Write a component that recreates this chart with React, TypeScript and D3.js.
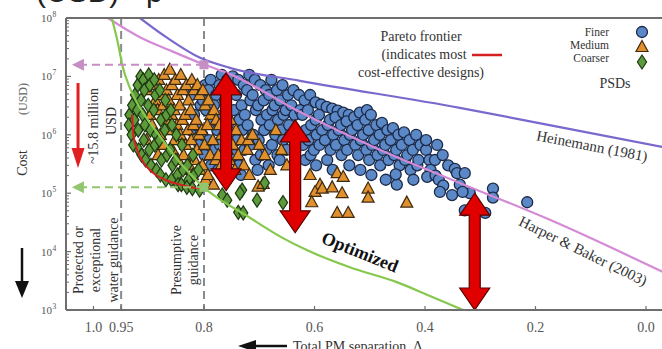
import React from "react";
import * as d3 from "d3";

const W = 662;
const H = 349;
const serif = '"Liberation Serif", "DejaVu Serif", serif';

// PSD design points: [total PM separation Δ, cost USD]
const finer: [number, number][] = [
  [0.822, 4.8e6], [0.818, 2.2e6], [0.824, 1.2e6],
  [0.812, 5.8e6], [0.806, 3.2e6], [0.814, 1.47e6], [0.808, 6.7e5],
  [0.798, 7.1e6], [0.802, 3.9e6], [0.796, 2.65e6], [0.803, 1.0e6], [0.799, 4.5e5],
  [0.788, 8.7e6], [0.792, 5.8e6], [0.786, 1.8e6], [0.791, 8.1e5], [0.787, 3.0e5],
  [0.778, 4.8e6], [0.782, 3.2e6], [0.776, 1.2e6], [0.781, 5.5e5],
  [0.768, 1.06e7], [0.772, 7.1e6], [0.766, 2.2e6], [0.771, 6.7e5], [0.774, 2.5e5],
  [0.758, 8.7e6], [0.762, 3.9e6], [0.757, 1.47e6],
  [0.748, 1.0e7], [0.752, 5.8e6], [0.746, 2.65e6], [0.751, 1.0e6], [0.745, 4.5e5],
  [0.738, 8.7e6], [0.742, 4.8e6], [0.736, 1.8e6], [0.741, 8.1e5], [0.737, 3.0e5],
  [0.728, 7.1e6], [0.732, 3.2e6], [0.726, 2.2e6], [0.731, 1.2e6], [0.727, 5.5e5], [0.733, 2.05e5],
  [0.718, 1.06e7], [0.722, 5.8e6], [0.716, 3.9e6], [0.721, 1.47e6], [0.717, 6.7e5],
  [0.708, 8.7e6], [0.712, 4.8e6], [0.706, 2.65e6], [0.711, 1.0e6], [0.707, 3.7e5],
  [0.698, 7.1e6], [0.702, 3.2e6], [0.696, 1.8e6], [0.701, 8.1e5], [0.697, 4.5e5], [0.703, 2.5e5],
  [0.688, 5.8e6], [0.692, 3.9e6], [0.686, 2.2e6], [0.691, 1.2e6], [0.687, 5.5e5],
  [0.678, 8.7e6], [0.682, 4.8e6], [0.676, 2.65e6], [0.681, 1.47e6], [0.677, 6.7e5], [0.683, 3.0e5],
  [0.668, 5.8e6], [0.672, 3.2e6], [0.666, 1.8e6], [0.671, 1.0e6], [0.667, 4.5e5],
  [0.658, 7.1e6], [0.662, 3.9e6], [0.656, 2.2e6], [0.661, 1.2e6], [0.657, 8.1e5], [0.663, 3.7e5],
  [0.648, 4.8e6], [0.652, 2.65e6], [0.646, 1.47e6], [0.651, 5.5e5],
  [0.638, 5.8e6], [0.642, 3.2e6], [0.636, 2.2e6],
  [0.628, 4.8e6], [0.626, 2.65e6],
  [0.618, 3.9e6], [0.622, 2.2e6], [0.616, 1.2e6], [0.621, 6.7e5], [0.617, 3.7e5],
  [0.608, 4.8e6], [0.612, 2.65e6], [0.606, 1.47e6], [0.611, 8.1e5], [0.607, 4.5e5],
  [0.598, 3.6e6], [0.598, 1.8e6], [0.596, 1.0e6], [0.601, 5.5e5], [0.597, 3.0e5],
  [0.588, 3.3e6], [0.592, 2.2e6], [0.586, 1.2e6], [0.591, 6.7e5],
  [0.578, 3.0e6], [0.576, 1.47e6], [0.581, 8.1e5], [0.577, 3.7e5],
  [0.568, 2.8e6], [0.572, 1.8e6], [0.566, 1.0e6], [0.571, 5.5e5], [0.567, 2.5e5],
  [0.558, 2.6e6], [0.562, 2.0e6], [0.556, 1.2e6], [0.561, 6.7e5],
  [0.548, 2.4e6], [0.552, 1.47e6], [0.546, 8.1e5], [0.551, 4.5e5],
  [0.538, 2.2e6], [0.542, 1.7e6], [0.536, 1.0e6], [0.541, 5.5e5], [0.537, 3.0e5],
  [0.528, 2.0e6], [0.532, 1.2e6], [0.526, 6.7e5],
  [0.518, 2.4e6], [0.522, 1.47e6], [0.516, 8.1e5], [0.521, 4.5e5], [0.517, 2.5e5],
  [0.505, 2.65e6], [0.508, 1.8e6], [0.512, 1.0e6], [0.506, 5.5e5],
  [0.498, 2.2e6], [0.502, 1.2e6], [0.496, 6.7e5], [0.501, 3.7e5], [0.497, 2.05e5],
  [0.488, 1.47e6], [0.492, 8.1e5], [0.486, 4.5e5],
  [0.478, 1.6e6], [0.482, 1.0e6], [0.476, 5.5e5], [0.481, 3.0e5],
  [0.468, 1.2e6], [0.472, 6.7e5], [0.466, 3.7e5], [0.471, 1.7e5],
  [0.458, 1.3e6], [0.462, 8.1e5], [0.456, 4.5e5],
  [0.448, 1.0e6], [0.452, 5.5e5], [0.446, 3.0e5], [0.451, 1.4e5],
  [0.438, 1.1e6], [0.442, 6.7e5], [0.436, 3.7e5], [0.453, 2.1e5],
  [0.428, 8.1e5], [0.432, 4.5e5], [0.426, 2.5e5],
  [0.416, 1.0e6], [0.422, 5.5e5], [0.414, 3.0e5], [0.421, 1.7e5],
  [0.408, 6.7e5], [0.412, 3.7e5], [0.398, 5.5e5], [0.392, 3.7e5],
  [0.398, 8.1e5], [0.390, 2.5e5], [0.396, 1.9e5], [0.381, 2.0e5],
  [0.378, 6.7e5], [0.382, 3.7e5], [0.375, 1.7e5],
  [0.368, 4.5e5], [0.367, 1.35e5], [0.373, 1.05e5],
  [0.358, 3.0e5], [0.351, 9.3e4], [0.346, 2.6e5],
  [0.342, 2.2e5], [0.337, 1.4e5], [0.328, 2.2e5],
  [0.319, 1.0e5], [0.332, 1.05e5], [0.328, 5.1e4],
  [0.291, 4.6e4], [0.277, 1.2e5], [0.277, 8.4e4], [0.215, 7.0e4],
];

const medium: [number, number][] = [
  [0.902, 5.8e6], [0.898, 2.2e6], [0.904, 8.1e5],
  [0.892, 7.1e6], [0.888, 3.9e6], [0.894, 1.47e6],
  [0.882, 8.7e6], [0.878, 4.8e6], [0.884, 2.65e6], [0.879, 1.0e6], [0.883, 4.5e5],
  [0.872, 1.06e7], [0.868, 5.8e6], [0.874, 3.2e6], [0.869, 1.8e6], [0.873, 6.7e5],
  [0.862, 1.3e7], [0.858, 7.1e6], [0.864, 3.9e6], [0.859, 2.2e6], [0.863, 1.2e6], [0.857, 5.5e5],
  [0.852, 8.7e6], [0.848, 4.8e6], [0.854, 2.65e6], [0.849, 1.47e6], [0.853, 8.1e5], [0.847, 3.7e5],
  [0.842, 1.06e7], [0.838, 5.8e6], [0.844, 3.2e6], [0.839, 1.8e6], [0.843, 1.0e6], [0.837, 4.5e5], [0.841, 2.5e5],
  [0.832, 7.1e6], [0.828, 3.9e6], [0.834, 2.2e6], [0.829, 1.2e6], [0.833, 6.7e5], [0.827, 3.0e5],
  [0.822, 8.7e6], [0.818, 5.8e6], [0.824, 2.65e6], [0.819, 1.47e6], [0.823, 8.1e5], [0.817, 3.7e5], [0.821, 2.05e5],
  [0.812, 7.1e6], [0.808, 4.8e6], [0.814, 1.8e6], [0.809, 1.0e6], [0.813, 5.5e5], [0.807, 2.5e5],
  [0.802, 5.8e6], [0.798, 3.2e6], [0.804, 1.2e6], [0.799, 6.7e5], [0.803, 3.0e5], [0.797, 1.7e5],
  [0.792, 3.9e6], [0.788, 2.2e6], [0.794, 1.47e6], [0.789, 4.5e5], [0.793, 2.05e5],
  [0.782, 2.65e6], [0.778, 1.8e6], [0.784, 8.1e5], [0.779, 3.7e5], [0.783, 1.4e5],
  [0.772, 1.47e6], [0.768, 1.0e6], [0.774, 4.5e5], [0.769, 3.0e5],
  [0.762, 1.2e6], [0.758, 5.5e5], [0.764, 2.5e5],
  [0.752, 1.8e6], [0.748, 6.7e5], [0.754, 3.7e5],
  [0.742, 1.2e6], [0.738, 4.5e5], [0.744, 2.5e5],
  [0.732, 8.1e5], [0.728, 3.0e5],
  [0.722, 5.5e5], [0.718, 2.05e5], [0.720, 8.1e5],
  [0.712, 1.0e6], [0.702, 1.3e5], [0.693, 1.45e5], [0.700, 6.7e5], [0.690, 4.5e5],
  [0.680, 2.5e5], [0.670, 1.2e6], [0.660, 5.5e5], [0.650, 3.0e5],
  [0.608, 2.05e5], [0.590, 1.4e5], [0.599, 1.05e5], [0.605, 7.0e4], [0.586, 1.2e5], [0.568, 1.26e5],
  [0.559, 2.2e5], [0.548, 1.9e5], [0.550, 1.0e5], [0.559, 4.6e4], [0.539, 4.6e4],
  [0.503, 1.2e5], [0.503, 8.4e4], [0.433, 6.9e4],
];

const coarser: [number, number][] = [
  [0.935, 2.2e6], [0.936, 1.47e6],
  [0.930, 3.2e6], [0.931, 1.0e6], [0.928, 6.7e5],
  [0.925, 4.8e6], [0.926, 1.8e6],
  [0.920, 7.1e6], [0.921, 2.65e6], [0.919, 1.2e6], [0.918, 5.5e5],
  [0.915, 1.0e7], [0.914, 3.9e6], [0.913, 4.5e5],
  [0.910, 8.7e6], [0.908, 5.8e6], [0.911, 2.2e6], [0.907, 1.47e6], [0.909, 8.1e5], [0.906, 3.7e5],
  [0.900, 1.06e7], [0.898, 7.1e6], [0.901, 3.2e6], [0.897, 1.2e6], [0.899, 5.5e5], [0.896, 3.0e5],
  [0.890, 8.7e6], [0.888, 4.8e6], [0.891, 2.65e6], [0.887, 1.0e6], [0.889, 6.7e5], [0.886, 2.5e5],
  [0.880, 5.8e6], [0.878, 1.8e6], [0.881, 8.1e5], [0.877, 3.7e5], [0.879, 2.05e5],
  [0.870, 3.9e6], [0.868, 2.2e6], [0.871, 1.2e6], [0.867, 4.5e5], [0.869, 1.7e5],
  [0.860, 2.65e6], [0.858, 1.47e6], [0.861, 5.5e5], [0.857, 3.0e5], [0.859, 1.7e5],
  [0.850, 1.0e6], [0.848, 2.05e5], [0.851, 3.7e5], [0.847, 1.4e5],
  [0.840, 6.7e5], [0.838, 2.5e5], [0.841, 1.4e5],
  [0.830, 3.0e5], [0.828, 1.7e5], [0.831, 1.26e5],
  [0.820, 4.5e5], [0.818, 2.05e5], [0.821, 1.2e5],
  [0.810, 2.5e5], [0.808, 1.13e5],
  [0.767, 9.3e4], [0.758, 7.6e4], [0.731, 1.13e5], [0.738, 4.7e4], [0.729, 4.6e4],
  [0.704, 7.6e4], [0.657, 6.9e4], [0.690, 1.5e5], [0.735, 1.0e5],
];

// Curves
const pareto: [number, number][] = [
  [0.93, 2.2e6], [0.928, 1.0e6], [0.921, 5.5e5], [0.91, 3.4e5], [0.894, 2.3e5],
  [0.871, 1.7e5], [0.843, 1.4e5], [0.813, 1.23e5], [0.8, 1.23e5],
];
const optimized: [number, number][] = [
  [0.967, 1e8], [0.957, 4.2e7], [0.947, 1.45e7], [0.934, 6.3e6], [0.916, 2.9e6],
  [0.885, 1.1e6], [0.843, 3.3e5], [0.802, 1.3e5], [0.717, 3.8e4], [0.657, 1.7e4],
  [0.614, 1.06e4], [0.536, 5.4e3], [0.451, 3.0e3], [0.391, 1.74e3], [0.331, 1.0e3],
];
const heinemann: [number, number][] = [
  [0.916, 1e8], [0.867, 4.6e7], [0.808, 2.1e7], [0.753, 1.4e7], [0.626, 8.4e6],
  [0.337, 2.9e6], [0.156, 1.35e6], [-0.03, 6.2e5],
];
const harperBaker: [number, number][] = [
  [0.974, 1e8], [0.916, 4.7e7], [0.862, 2.8e7], [0.8, 1.6e7], [0.758, 1.15e7],
  [0.626, 2.45e6], [0.481, 5.5e5], [0.337, 1.5e5], [0.174, 3.5e4], [-0.03, 4.5e3],
];

const xTicks = [1.0, 0.95, 0.8, 0.6, 0.4, 0.2, 0.0];
const xTickLabels = ["1.0", "0.95", "0.8", "0.6", "0.4", "0.2", "0.0"];
const yTicks = [1e3, 1e4, 1e5, 1e6, 1e7, 1e8];
const yExponents = ["3", "4", "5", "6", "7", "8"];
const guidance = [0.95, 0.8];
// cost reductions shown as double arrows: [Δ, upper cost, lower cost]
const reductions: [number, number, number][] = [
  [0.76, 1.15e7, 1.1e5],
  [0.635, 1.8e6, 2.1e4],
  [0.31, 1.0e5, 1.0e3],
];
const presumptiveCost = [1.58e7, 1.26e5];
const savingArrow: [number, number, number] = [1.028, 7.7e6, 2.7e5];

export default function App() {
  const x = d3.scaleLinear().domain([1.0, 0.0]).range([93.5, 646]);
  const y = d3.scaleLog().domain([1e3, 1e8]).range([310, 18]);
  const left = 66;
  const right = W;
  const top = y(1e8);
  const bottom = y(1e3);

  const line = d3
    .line<[number, number]>()
    .x((d) => x(d[0]))
    .y((d) => y(d[1]))
    .curve(d3.curveMonotoneX);

  const minorTicks: number[] = [];
  for (let e = 3; e < 8; e++) {
    for (let m = 2; m <= 9; m++) minorTicks.push(m * Math.pow(10, e));
  }

  const dbl = (cx: number, y1: number, y2: number) => {
    const sw = 5.5, hw = 15, hl = 22;
    return `M${cx},${y1} L${cx + hw},${y1 + hl} L${cx + sw},${y1 + hl} L${cx + sw},${y2 - hl} L${cx + hw},${y2 - hl} L${cx},${y2} L${cx - hw},${y2 - hl} L${cx - sw},${y2 - hl} L${cx - sw},${y1 + hl} L${cx - hw},${y1 + hl} Z`;
  };

  const circ = (cx: number, cy: number, k: string) => (
    <circle key={k} cx={cx} cy={cy} r={5.5} fill="#5b88c6" stroke="#1c2a48" strokeWidth={1.3} />
  );
  const tri = (cx: number, cy: number, k: string) => (
    <path key={k} d={`M${cx},${cy - 6.5} L${cx + 6},${cy + 4.5} L${cx - 6},${cy + 4.5} Z`} fill="#e0912e" stroke="#3e2a10" strokeWidth={1.2} />
  );
  const dia = (cx: number, cy: number, k: string) => (
    <path key={k} d={`M${cx},${cy - 7} L${cx + 4.6},${cy} L${cx},${cy + 7} L${cx - 4.6},${cy} Z`} fill="#5c9a3c" stroke="#1e3812" strokeWidth={1.2} />
  );

  const gx = x(0.8);
  const arrowTipX = x(1.039);
  const txt = "#333";

  return (
    <svg width={W} height={H} style={{ position: "fixed", left: 0, top: 0, background: "#fff" }} fontFamily={serif}>
      <defs>
        <clipPath id="plot">
          <rect x={left} y={top} width={right - left} height={bottom - top} />
        </clipPath>
      </defs>
      <rect width={W} height={H} fill="#fff" />
      {/* cut-off heading above the figure */}
      <text x={36} y={2} fontSize={30} fontFamily="Liberation Sans, sans-serif" fill="#222">(USD) - p</text>

      <g clipPath="url(#plot)">
        {guidance.map((g) => (
          <line key={g} x1={x(g)} x2={x(g)} y1={top} y2={bottom} stroke="#8a8a8a" strokeWidth={2} strokeDasharray="8,5" />
        ))}
        {finer.map((d, i) => circ(x(d[0]), y(d[1]), "f" + i))}
        {medium.map((d, i) => tri(x(d[0]), y(d[1]), "m" + i))}
        {coarser.map((d, i) => dia(x(d[0]), y(d[1]), "c" + i))}
        <path d={line(heinemann) || ""} fill="none" stroke="#7a68cc" strokeWidth={2.2} />
        <path d={line(harperBaker) || ""} fill="none" stroke="#d58ad6" strokeWidth={2.2} />
        <path d={line(optimized) || ""} fill="none" stroke="#86c84e" strokeWidth={2.2} />
        <path d={line(pareto) || ""} fill="none" stroke="#d42020" strokeWidth={2} />

        {/* presumptive guidance cost read-offs */}
        <line x1={gx} x2={arrowTipX + 10} y1={y(presumptiveCost[0])} y2={y(presumptiveCost[0])} stroke="#c78ec4" strokeWidth={2} strokeDasharray="8,5" />
        <path d={`M${arrowTipX},${y(presumptiveCost[0])} l12,-6 l0,12 Z`} fill="#c78ec4" />
        <rect x={gx - 4.5} y={y(presumptiveCost[0]) - 4.5} width={9} height={9} fill="#c78ec4" />
        <line x1={gx} x2={arrowTipX + 10} y1={y(presumptiveCost[1])} y2={y(presumptiveCost[1])} stroke="#92c66e" strokeWidth={2} strokeDasharray="8,5" />
        <path d={`M${arrowTipX},${y(presumptiveCost[1])} l12,-6 l0,12 Z`} fill="#92c66e" />
        <rect x={gx - 4.5} y={y(presumptiveCost[1]) - 4.5} width={9} height={9} fill="#92c66e" />

        {/* ~15.8 million saving arrow */}
        <line x1={x(savingArrow[0])} x2={x(savingArrow[0])} y1={y(savingArrow[1])} y2={y(savingArrow[2]) - 18} stroke="#e02020" strokeWidth={3} />
        <path d={`M${x(savingArrow[0])},${y(savingArrow[2])} l-6.5,-20 l13,0 Z`} fill="#e02020" />

        {reductions.map((r, i) => (
          <path key={"r" + i} d={dbl(x(r[0]), y(r[1]), y(r[2]))} fill="#e00000" stroke="#5a0000" strokeWidth={1.2} />
        ))}
      </g>

      {/* frame */}
      <line x1={left} x2={right} y1={top} y2={top} stroke="#6e6e6e" strokeWidth={2} />
      <line x1={left} x2={right} y1={bottom} y2={bottom} stroke="#6e6e6e" strokeWidth={2} />
      <line x1={left} x2={left} y1={top} y2={bottom} stroke="#6e6e6e" strokeWidth={2} />

      {yTicks.map((t, i) => (
        <g key={"yt" + i}>
          <line x1={left} x2={left + 5} y1={y(t)} y2={y(t)} stroke="#6e6e6e" strokeWidth={1.2} />
          <text x={52} y={y(t) + 4} fontSize={11} fill="#555" textAnchor="end">10</text>
          <text x={52.5} y={y(t) - 1} fontSize={7.5} fill="#555">{yExponents[i]}</text>
        </g>
      ))}
      {minorTicks.map((t, i) => (
        <line key={"mt" + i} x1={left} x2={left + 3} y1={y(t)} y2={y(t)} stroke="#6e6e6e" strokeWidth={1} />
      ))}
      {xTicks.map((t, i) => (
        <g key={"xt" + i}>
          <line x1={x(t)} x2={x(t)} y1={bottom} y2={bottom - 4} stroke="#6e6e6e" strokeWidth={1.2} />
          <text x={x(t)} y={332} fontSize={14} fill="#555" textAnchor="middle">{xTickLabels[i]}</text>
        </g>
      ))}

      {/* axis titles */}
      <text transform="translate(27,163) rotate(-90)" fontSize={14} fill={txt} textAnchor="middle">Cost</text>
      <text transform="translate(27,99) rotate(-90)" fontSize={12} fill="#666" textAnchor="middle">(USD)</text>
      <line x1={22} x2={22} y1={248} y2={282} stroke="#111" strokeWidth={2.5} />
      <path d="M15,281 L29,281 L22,298 Z" fill="#111" />
      <line x1={255} x2={287} y1={346} y2={346} stroke="#111" strokeWidth={2.5} />
      <path d="M238,346 L256,340 L256,352 Z" fill="#111" />
      <text x={293} y={351} fontSize={14} fill={txt}>Total PM separation, Δ</text>

      {/* guidance annotations */}
      <g fontSize={14} fill={txt} textAnchor="middle" dominantBaseline="central">
        <text transform="translate(78,260) rotate(-90)">Protected or</text>
        <text transform="translate(95,260) rotate(-90)">exceptional</text>
        <text transform="translate(113,260) rotate(-90)">water guidance</text>
        <text transform="translate(176,260) rotate(-90)">Presumptive</text>
        <text transform="translate(193,260) rotate(-90)">guidance</text>
        <text transform="translate(93,126) rotate(-90)">~15.8 million</text>
        <text transform="translate(111,121) rotate(-90)">USD</text>
      </g>

      {/* curve labels */}
      <text transform="translate(592,146) rotate(11)" fontSize={15} fill={txt} textAnchor="middle" dominantBaseline="central">Heinemann (1981)</text>
      <text transform="translate(583,251) rotate(26)" fontSize={15} fill={txt} textAnchor="middle" dominantBaseline="central">Harper &amp; Baker (2003)</text>
      <text transform="translate(360,252) rotate(22)" fontSize={18} fontWeight="bold" fill="#111" textAnchor="middle" dominantBaseline="central">Optimized</text>

      {/* legend */}
      <g fontSize={14} fill={txt} textAnchor="middle">
        <text x={421} y={41}>Pareto frontier</text>
        <text x={424} y={59}>(indicates most</text>
        <text x={421} y={77}>cost-effective designs)</text>
      </g>
      <line x1={472} x2={502} y1={55} y2={55} stroke="#d42020" strokeWidth={2.5} />
      <g fontSize={11.5} fill={txt} textAnchor="end">
        <text x={609} y={36}>Finer</text>
        <text x={609} y={49}>Medium</text>
        <text x={609} y={62}>Coarser</text>
      </g>
      <text x={615} y={88} fontSize={14} fill={txt} textAnchor="middle">PSDs</text>
      {circ(642, 32, "lc")}
      {tri(642, 47, "lt")}
      {dia(642, 62, "ld")}
    </svg>
  );
}
